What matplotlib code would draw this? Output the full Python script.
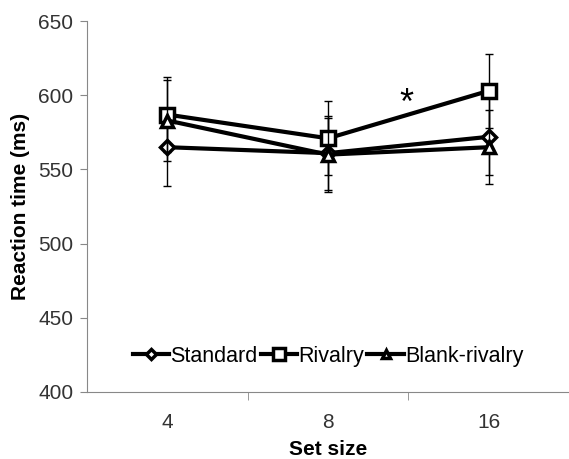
import numpy as np
import matplotlib.pyplot as plt

plt.rcParams['font.family'] = ['Liberation Sans', 'DejaVu Sans']

set_sizes = ['4', '8', '16']
standard = [565, 561, 572]
rivalry = [587, 571, 603]
blank_rivalry = [583, 560, 565]
standard_err = [26, 25, 26]
rivalry_err = [25, 25, 25]
blank_err = [27, 25, 25]

fig = plt.figure(figsize=(5.69, 4.59), dpi=100)
ax = fig.add_axes([0.153, 0.146, 0.847, 0.808])

x = np.arange(len(set_sizes))
series = [
    ('Standard', standard, standard_err, 'D', 7),
    ('Rivalry', rivalry, rivalry_err, 's', 10),
    ('Blank-rivalry', blank_rivalry, blank_err, '^', 8),
]
handles = []
for label, vals, err, marker, ms in series:
    ax.errorbar(x, vals, yerr=err, fmt='none', ecolor='black',
                elinewidth=1, capsize=3, capthick=1)
    line, = ax.plot(x, vals, color='black', lw=3, marker=marker, ms=ms,
                    mfc='white', mec='black', mew=2.5, label=label)
    handles.append(line)

ax.text(1.49, 594, '*', fontsize=26, ha='center', va='center')

ax.set_xlim(-0.5, 2.5)
ax.set_ylim(400, 650)
ax.set_yticks(np.arange(400, 651, 50))
ax.set_xticks(x)
ax.set_xticklabels(set_sizes)
ax.set_xticks([0.5, 1.5], minor=True)
ax.tick_params(axis='x', which='major', length=0, pad=15)
ax.tick_params(axis='x', which='minor', length=6, color='#888888', direction='out')
ax.tick_params(axis='y', length=5, color='#888888', direction='out', pad=5)
ax.tick_params(labelsize=15, labelcolor='#333333')

for side in ['top', 'right']:
    ax.spines[side].set_visible(False)
for side in ['left', 'bottom']:
    ax.spines[side].set_color('#888888')

ax.set_xlabel('Set size', fontsize=15, fontweight='bold', labelpad=6)
ax.set_ylabel('Reaction time (ms)', fontsize=15, fontweight='bold', labelpad=6)

ax.legend(handles=handles, loc='lower center', bbox_to_anchor=(0.5, 0.045), ncol=3,
          frameon=False, fontsize=15.5, handlelength=1.7, handletextpad=0.05,
          columnspacing=0.15, borderaxespad=0, markerscale=0.8)

fig.savefig('out.png', dpi=100)
